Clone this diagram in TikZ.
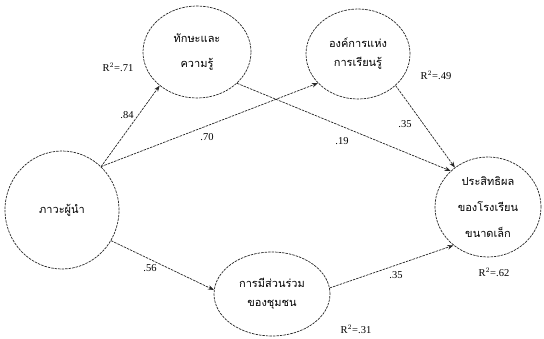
\documentclass[tikz,border=0pt]{standalone}
\usepackage{fontspec}
\setmainfont{Liberation Serif}
\newfontfamily\thaifont[Script=Thai]{Loma}
\usetikzlibrary{arrows.meta,shapes.geometric}
\tikzset{
  latent/.style={ellipse, draw=black!85, line width=.7pt, dash pattern=on 2.5pt off 1pt,
    inner sep=0pt, align=center, font=\thaifont\fontsize{11}{19}\selectfont},
  path/.style={-{Stealth[length=6pt,width=4.5pt]}, draw=black!85, line width=.7pt,
    dash pattern=on 2.5pt off 1pt},
  coef/.style={font=\fontsize{10.5}{11}\selectfont, inner sep=1pt}
}
\begin{document}
\begin{tikzpicture}[x=1pt,y=-1pt]
  \useasboundingbox (0,0) rectangle (544,338);
  % latent variables
  \node[latent, minimum width=114, minimum height=118] (lead) at (62,210) {ภาวะผู้นำ};
  \node[latent, minimum width=108, minimum height=92, font=\thaifont\fontsize{11}{25}\selectfont] (skill) at (197,52) {ทักษะและ\\ความรู้};
  \node[latent, minimum width=104, minimum height=90] (org) at (358,54) {องค์การแห่ง\\การเรียนรู้};
  \node[latent, minimum width=106, minimum height=100, font=\thaifont\fontsize{11}{26}\selectfont] (eff) at (488,207) {ประสิทธิผล\\ของโรงเรียน\\ขนาดเล็ก};
  \node[latent, minimum width=116, minimum height=84] (comm) at (272,294) {การมีส่วนร่วม\\ของชุมชน};
  % paths
  \draw[path] (lead.48) -- (skill.222);
  \draw[path] (lead.48) -- (org.216);
  \draw[path] (skill.-38) -- (eff.136);
  \draw[path] (org.-40) -- (eff.130);
  \draw[path] (lead.-32) -- (comm.176);
  \draw[path] (comm.6) -- (eff.228);
  % coefficients
  \node[coef] (c84) at (127,115) {.84};
  \node[coef] (c70) at (207,137) {.70};
  \node[coef] (c19) at (342,141) {.19};
  \node[coef] (c35a) at (405,124) {.35};
  \node[coef] (c56) at (150,268) {.56};
  \node[coef] (c35b) at (396,275) {.35};
  % explained variance
  \node[coef] (r71) at (118,67) {R$^2$=.71};
  \node[coef] (r49) at (436,75) {R$^2$=.49};
  \node[coef] (r62) at (494,272) {R$^2$=.62};
  \node[coef] (r31) at (356,329) {R$^2$=.31};
\end{tikzpicture}
\end{document}
